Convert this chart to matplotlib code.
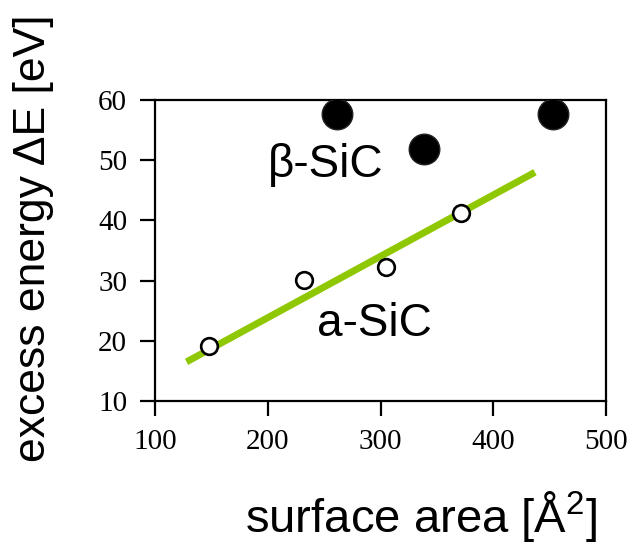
import numpy as np
import matplotlib
matplotlib.use("Agg")
import matplotlib.pyplot as plt

plt.rcParams['font.family'] = ['Liberation Sans', 'DejaVu Sans']
plt.rcParams['mathtext.fontset'] = 'custom'
plt.rcParams['mathtext.rm'] = 'Liberation Sans'

# a-SiC (open circles)
a_x = [148, 232, 305, 371]
a_y = [19.1, 30.1, 32.3, 41.2]

# beta-SiC (filled circles)
b_x = [261, 339, 453]
b_y = [57.7, 51.9, 57.7]

# linear fit line for a-SiC
fit_x = [128, 437]
fit_y = [16.5, 48.0]

xticks = [100, 200, 300, 400, 500]
yticks = [10, 20, 30, 40, 50, 60]

fig = plt.figure(figsize=(6.29, 5.43), dpi=100)
ax = fig.add_axes([155/629, 1 - 401/543, 451/629, 301/543])

ax.plot(fit_x, fit_y, color='#8fc800', lw=5, solid_capstyle='butt', zorder=2)
ax.plot(a_x, a_y, 'o', ms=12, mfc='white', mec='black', mew=1.9, zorder=3)
ax.plot(b_x, b_y, 'o', ms=22, mfc='black', mec='#222222', mew=1, zorder=3)

ax.text(200, 47.2, 'β-SiC', fontsize=33, ha='left', va='baseline')
ax.text(244, 20.8, 'a-SiC', fontsize=33, ha='left', va='baseline')

ax.set_xlim(100, 500)
ax.set_ylim(10, 60)
ax.set_xticks(xticks)
ax.set_yticks(yticks)
for s in ax.spines.values():
    s.set_linewidth(1.6)
ax.tick_params(direction='out', length=11, width=1.6, labelsize=21, pad=9)
for lab in ax.get_xticklabels() + ax.get_yticklabels():
    lab.set_fontfamily('Liberation Serif')

fig.text(421/629, 11/543, 'surface area [Å$^{2}$]', fontsize=34, ha='center', va='baseline')
fig.text(34/629, 81/543, 'excess energy ΔE [eV]', fontsize=32, rotation=90,
         ha='center', va='bottom')

fig.savefig('out.png', dpi=100)
